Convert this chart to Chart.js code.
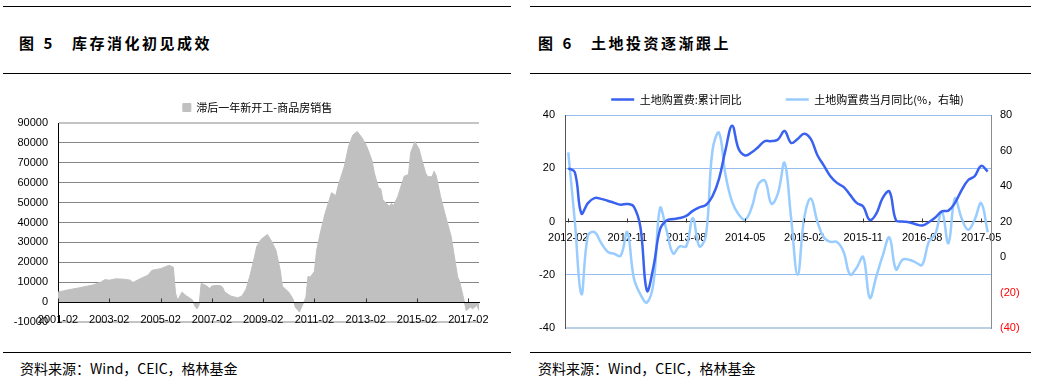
<!DOCTYPE html>
<html lang="zh-CN">
<head>
<meta charset="utf-8">
<title>库存消化初见成效 / 土地投资逐渐跟上</title>
<script src="https://cdn.jsdelivr.net/npm/chart.js@4.4.1/dist/chart.umd.min.js"></script>
<style>
  html, body { margin: 0; padding: 0; background: #fff; }
  body {
    width: 1039px; height: 392px; position: relative; overflow: hidden;
    font-family: "Noto Sans CJK SC", sans-serif; color: #000;
  }
  .rule { position: absolute; height: 0; border-top: 1px solid #000; }
  .title {
    position: absolute; top: 33px; font-size: 15px; font-weight: bold;
    letter-spacing: 2.5px; line-height: 20px; white-space: nowrap;
  }
  .title .fig { margin-right: 7px; }
  .title .num { margin-right: 17px; }
  .source { position: absolute; top: 359px; font-size: 14px; line-height: 18px; white-space: nowrap; }
  canvas { position: absolute; }
</style>
</head>
<body>
  <div class="rule" style="left:3px; width:508px; top:6px"></div>
  <div class="rule" style="left:530px; width:501px; top:6px"></div>
  <div class="title" style="left:19px"><span class="fig">图</span><span class="num">5</span>库存消化初见成效</div>
  <div class="title" style="left:538px"><span class="fig">图</span><span class="num">6</span>土地投资逐渐跟上</div>
  <div class="rule" style="left:3px; width:508px; top:73px"></div>
  <div class="rule" style="left:530px; width:501px; top:73px"></div>

  <canvas id="stock-chart" width="515" height="260" style="left:0; top:88px"></canvas>
  <canvas id="land-chart" width="519" height="298" style="left:520px; top:50px"></canvas>

  <div class="rule" style="left:3px; width:508px; top:352px"></div>
  <div class="rule" style="left:530px; width:501px; top:352px"></div>
  <div class="source" style="left:20px">资料来源：Wind，CEIC，格林基金</div>
  <div class="source" style="left:538px">资料来源：Wind，CEIC，格林基金</div>

<script>
"use strict";

// 图5：滞后一年新开工-商品房销售，x 为自 2001-02 起的月份序号
const stockMonths = [
  0, 4, 10, 16, 20, 22, 24, 27, 31, 34, 35, 38, 42, 44, 48, 52, 54, 55, 56, 58,
  60, 63, 64, 65, 66, 67, 68, 70, 71, 72, 74, 76, 77, 78, 81, 84, 86, 88, 90, 92,
  93, 95, 98, 100, 102, 104, 105, 108, 110, 111, 113, 114, 116, 117, 118, 120, 121, 123, 125, 127,
  128, 130, 131, 134, 136, 138, 140, 142, 144, 145, 147, 148, 150, 151, 152, 155, 156, 157, 159, 161,
  162, 164, 165, 167, 169, 170, 172, 173, 175, 176, 177, 179, 181, 184, 186, 187, 188, 190, 191, 193,
  194, 196, 197,
];
const stockValues = [
  5000, 6000, 7200, 8500, 10000, 11300, 11000, 11700, 11500, 11000, 9800, 11500, 13500, 16000, 16800, 18500, 17500, 4500, 1000, 5000,
  3200, 1000, -2000, -3400, -1500, 9300, 9000, 7800, 6800, 8100, 8400, 8200, 7500, 5100, 3000, 2200, 3000, 6500, 14000, 23000,
  28000, 31500, 34000, 30500, 26000, 16000, 8000, 5000, 1500, -2500, -5000, -2500, 2500, 13000, 12500, 15500, 26000, 36000, 44700, 51500,
  55000, 53500, 58200, 68300, 78400, 84000, 85700, 83000, 79300, 76800, 70900, 65000, 57400, 57000, 51500, 48100, 49500, 48500, 53100, 59900,
  63300, 64100, 75100, 80700, 76800, 72600, 65000, 63000, 63000, 65800, 63500, 53100, 44700, 32900, 19400, 12700, 10100, 900, -4200, -2500,
  -3400, -1700, -4200,
];
const stockTickMonths = [0, 24, 48, 72, 96, 120, 144, 168, 192];
const stockTickLabels = [
  "2001-02", "2003-02", "2005-02", "2007-02", "2009-02",
  "2011-02", "2013-02", "2015-02", "2017-02",
];

// 图6：土地购置费同比，2012-02 ~ 2017-06（月度）
const landMonths = buildMonths(2012, 2, 65);
const landCumYoY = [
  20, 18.5, 3, 6.9, 8.8, 8.5, 7.8, 7.0, 6.3, 6.6, 5.6, -2, -26, -17, -3, 0.4, 0.9, 1.3, 2.1, 4,
  5.3, 6.2, 9.5, 16, 27, 36, 27.2, 24.8, 26, 28, 30.2, 30.2, 30.8, 34, 29.5, 31, 33, 31, 25, 21,
  17, 14.5, 13, 10, 7, 5.6, 0.6, 3, 9, 11.3, 0.5, 0, -0.3, -1, -1.5, -0.3, 1.5, 3.8, 4.1, 7,
  11.7, 15.5, 17, 20.9, 18.8,
];
const landMonthYoY = [
  59, 20, -21, 12, 14, 8, 3, 1.8, 0.7, 14, -11.8, -21, -25.6, -14.7, 27.5, 15, 2, 6, 6, 21.9,
  6, 12, 60, 70, 46, 31, 24, 21, 28, 41, 43, 30, 36, 53, 22, -10, 22, 33, 20, 11,
  8.5, 8.5, 3, -10, -6, 0, -23, -11, 1, 11, -7, -1.5, -1.5, -3, -4.4, 8.5, 13, 25.6, 7.8, 33,
  22, 15.3, 21, 30.4, 14,
];
const landTickIdx = [0, 9, 18, 27, 36, 45, 54, 63];

Chart.defaults.font.family = '"Liberation Sans", Arial, sans-serif';
Chart.defaults.font.size = 11;
Chart.defaults.color = "#000";

const LEGEND_FONT = { family: '"Noto Sans CJK SC", sans-serif', size: 11 };

// x 轴刻度线画在坐标轴内侧（向上）
const innerTicks = {
  id: "innerTicks",
  afterDatasetsDraw(chart) {
    const xs = chart.scales.x;
    const y0 = Math.round(chart.scales.y.getPixelForValue(0)) + 0.5;
    const ctx = chart.ctx;
    ctx.save();
    ctx.strokeStyle = "#333";
    ctx.lineWidth = 1;
    xs.ticks.forEach((t, i) => {
      const px = Math.round(xs.getPixelForTick(i)) + 0.5;
      ctx.beginPath();
      ctx.moveTo(px, y0);
      ctx.lineTo(px, y0 - 4);
      ctx.stroke();
    });
    ctx.restore();
  },
};

drawStockChart();
drawLandChart();

function drawStockChart() {
  new Chart(document.getElementById("stock-chart"), {
    type: "line",
    data: {
      datasets: [
        {
          label: "滞后一年新开工-商品房销售",
          data: stockMonths.map((m, i) => ({ x: m, y: stockValues[i] })),
          fill: "origin",
          backgroundColor: "#c0c0c0",
          borderColor: "#c0c0c0",
          borderWidth: 1,
          pointRadius: 0,
          tension: 0,
        },
      ],
    },
    options: {
      responsive: false,
      animation: false,
      devicePixelRatio: 1,
      layout: { padding: { top: 4, right: 0, bottom: 26, left: 0 } },
      plugins: {
        legend: {
          labels: { font: LEGEND_FONT, boxWidth: 8, boxHeight: 8, padding: 10, color: "#000" },
        },
        tooltip: { enabled: false },
      },
      scales: {
        x: {
          type: "linear",
          position: { y: 0 },
          min: 0,
          max: 197,
          afterBuildTicks: (s) => {
            s.ticks = stockTickMonths.map((v) => ({ value: v }));
          },
          ticks: {
            callback: (v, i) => stockTickLabels[i],
            autoSkip: false,
            maxRotation: 0,
            padding: 11,
          },
          grid: { display: false, drawTicks: false },
          border: { display: true, color: "#000", width: 1, z: 1 },
        },
        y: {
          min: -10000,
          max: 90000,
          afterFit: (s) => {
            s.width = 58;
          },
          ticks: { stepSize: 10000, padding: 10, callback: (v) => String(v) },
          grid: {
            drawTicks: false,
            color: (c) => {
              const v = c.tick.value;
              if (v === 0) return "rgba(0,0,0,0)";
              return v === 90000 || v === -10000 ? "#c4c4c4" : "#868686";
            },
            lineWidth: (c) => (c.tick.value === 90000 || c.tick.value === -10000 ? 2 : 1),
          },
          border: { color: "#000", width: 1 },
        },
        // 右侧留白，让图例居中于整幅图
        yPad: {
          type: "linear",
          position: "right",
          afterFit: (s) => {
            s.width = 36;
          },
          ticks: { display: false },
          grid: { display: false, drawTicks: false },
          border: { display: false },
        },
      },
    },
    plugins: [innerTicks],
  });
}

function drawLandChart() {
  new Chart(document.getElementById("land-chart"), {
    type: "line",
    data: {
      labels: landMonths,
      datasets: [
        {
          label: "土地购置费:累计同比",
          data: landCumYoY,
          yAxisID: "y",
          borderColor: "#3a62f0",
          backgroundColor: "#3a62f0",
          borderWidth: 2.5,
          pointRadius: 0,
          tension: 0.4,
        },
        {
          label: "土地购置费当月同比(%，右轴)",
          data: landMonthYoY,
          yAxisID: "y1",
          borderColor: "#99ccff",
          backgroundColor: "#99ccff",
          borderWidth: 2.5,
          pointRadius: 0,
          tension: 0.4,
        },
      ],
    },
    options: {
      responsive: false,
      animation: false,
      devicePixelRatio: 1,
      layout: { padding: { top: 0, right: 0, bottom: 20, left: 16 } },
      plugins: {
        legend: {
          labels: { font: LEGEND_FONT, boxWidth: 23, boxHeight: 0, padding: 44, color: "#000" },
        },
        tooltip: { enabled: false },
      },
      scales: {
        x: {
          type: "category",
          offset: true,
          position: { y: 0 },
          afterBuildTicks: (s) => {
            s.ticks = landTickIdx.map((v) => ({ value: v }));
          },
          ticks: { autoSkip: false, maxRotation: 0, padding: 10 },
          grid: { display: false, drawTicks: false },
          border: { display: true, color: "#333", width: 1 },
        },
        y: {
          position: "left",
          min: -40,
          max: 40,
          afterFit: (s) => {
            s.width = 29;
          },
          ticks: { stepSize: 20, padding: 10 },
          grid: {
            drawTicks: false,
            color: (c) => {
              const v = c.tick.value;
              if (v === 0) return "rgba(0,0,0,0)";
              return v === -40 ? "#bccfe6" : "#95bdf0";
            },
            lineWidth: (c) => (c.tick.value === -40 ? 2 : 1),
          },
          border: { color: "#555", width: 1 },
        },
        y1: {
          position: "right",
          min: -40,
          max: 80,
          afterFit: (s) => {
            s.width = 48;
          },
          ticks: {
            stepSize: 20,
            padding: 9,
            callback: (v) => (v < 0 ? `(${-v})` : String(v)),
            color: (c) => (c.tick.value < 0 ? "#ff0000" : "#000"),
          },
          grid: { drawOnChartArea: false, drawTicks: false },
          border: { color: "#8c8c8c", width: 1 },
        },
      },
    },
    plugins: [innerTicks],
  });
}

// 从起始年月生成 "YYYY-MM" 类别
function buildMonths(year, month, count) {
  const out = [];
  for (let i = 0; i < count; i++) {
    const m = month - 1 + i;
    const y = year + Math.floor(m / 12);
    out.push(`${y}-${String((m % 12) + 1).padStart(2, "0")}`);
  }
  return out;
}
</script>
</body>
</html>
